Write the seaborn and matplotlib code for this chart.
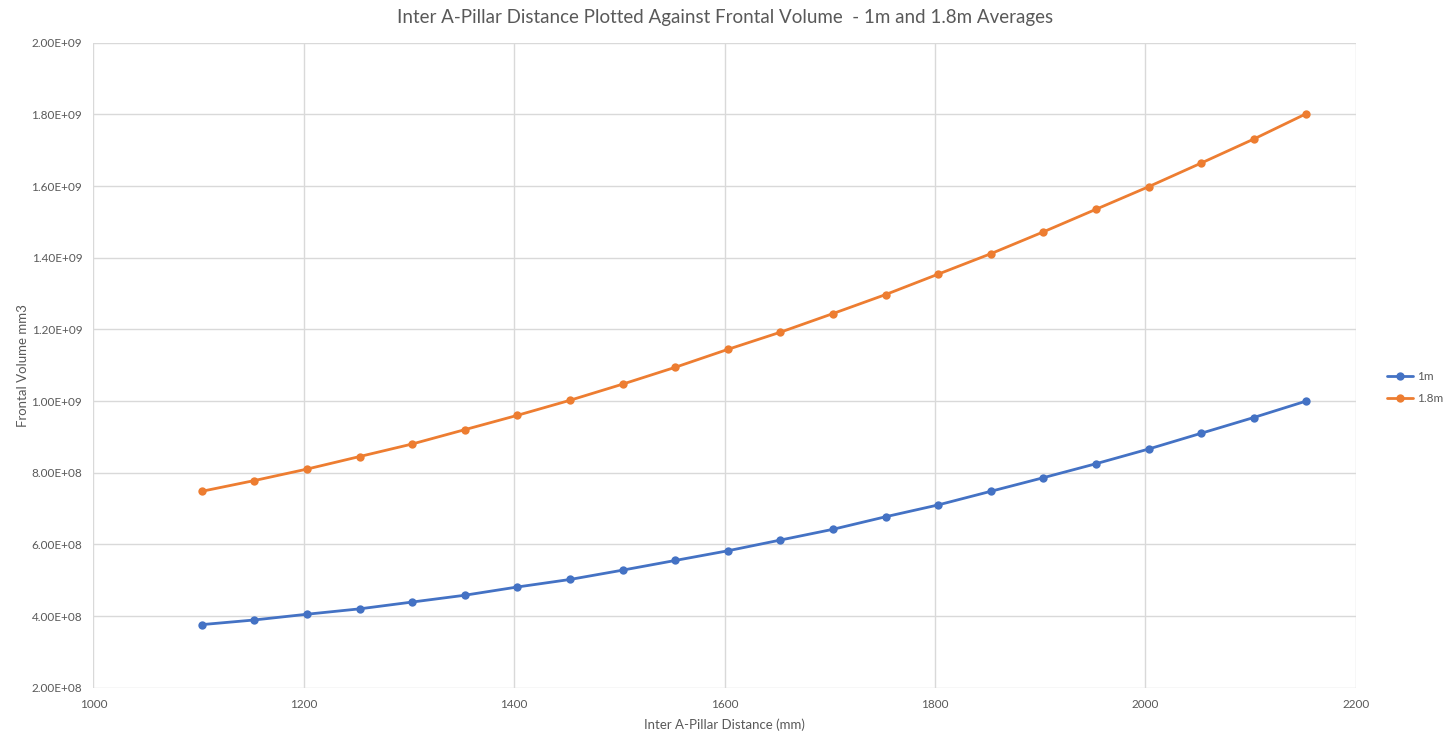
import numpy as np
import pandas as pd
import matplotlib.pyplot as plt
import seaborn as sns
from matplotlib.ticker import FuncFormatter

# inter A-pillar distance (mm)
distance = [1103, 1153, 1203, 1253, 1303, 1353, 1403, 1453, 1503, 1553, 1603,
            1653, 1703, 1753, 1803, 1853, 1903, 1953, 2003, 2053, 2103, 2153]

# frontal volume (mm3)
vol_1m = [3.76e8, 3.89e8, 4.05e8, 4.20e8, 4.39e8, 4.58e8, 4.81e8, 5.02e8,
          5.28e8, 5.55e8, 5.82e8, 6.12e8, 6.42e8, 6.77e8, 7.10e8, 7.48e8,
          7.86e8, 8.25e8, 8.66e8, 9.10e8, 9.54e8, 1.00e9]
vol_18m = [7.48e8, 7.78e8, 8.10e8, 8.45e8, 8.80e8, 9.20e8, 9.60e8, 1.002e9,
           1.047e9, 1.094e9, 1.144e9, 1.192e9, 1.244e9, 1.297e9, 1.354e9,
           1.411e9, 1.472e9, 1.535e9, 1.598e9, 1.664e9, 1.731e9, 1.802e9]

series_names = ["1m", "1.8m"]
colors = ["#4472C4", "#ED7D31"]

df = pd.DataFrame({
    "distance": distance * 2,
    "volume": vol_1m + vol_18m,
    "series": [series_names[0]] * len(distance) + [series_names[1]] * len(distance),
})

sns.set_theme(style="white")
plt.rcParams['font.family'] = ['Lato', 'DejaVu Sans']

fig = plt.figure(figsize=(14.47, 7.33), dpi=100)
ax = fig.add_axes([0.0645, 0.0618, 0.8725, 0.88])

sns.lineplot(data=df, x="distance", y="volume", hue="series",
             palette=colors, marker="o", markersize=6, markeredgewidth=0,
             linewidth=2, ax=ax, legend=True)

ax.set_xlim(1000, 2200)
ax.set_ylim(2e8, 2e9)
ax.set_xticks(np.arange(1000, 2201, 200))
ax.set_yticks(np.arange(2e8, 2.01e9, 2e8))
ax.yaxis.set_major_formatter(FuncFormatter(lambda v, p: f"{v:.2E}"))

ax.grid(True, color="#d9d9d9", linewidth=1)
ax.set_axisbelow(True)
for s in ax.spines.values():
    s.set_visible(False)
ax.tick_params(axis="both", length=0, labelsize=8.5, colors="#595959", pad=8)

ax.set_xlabel("Inter A-Pillar Distance (mm)", fontsize=9.5, color="#595959", labelpad=6)
ax.set_ylabel("Frontal Volume mm3", fontsize=9.5, color="#595959", labelpad=2)
ax.set_title("Inter A-Pillar Distance Plotted Against Frontal Volume  - 1m and 1.8m Averages",
             fontsize=13.5, color="#595959", pad=14)

ax.legend(loc="center left", bbox_to_anchor=(1.025, 0.465), frameon=False,
          borderpad=0, borderaxespad=0, fontsize=8.5, handlelength=2.2,
          handletextpad=0.3, labelcolor="#595959", labelspacing=0.9)

fig.savefig("out.png", dpi=100)
